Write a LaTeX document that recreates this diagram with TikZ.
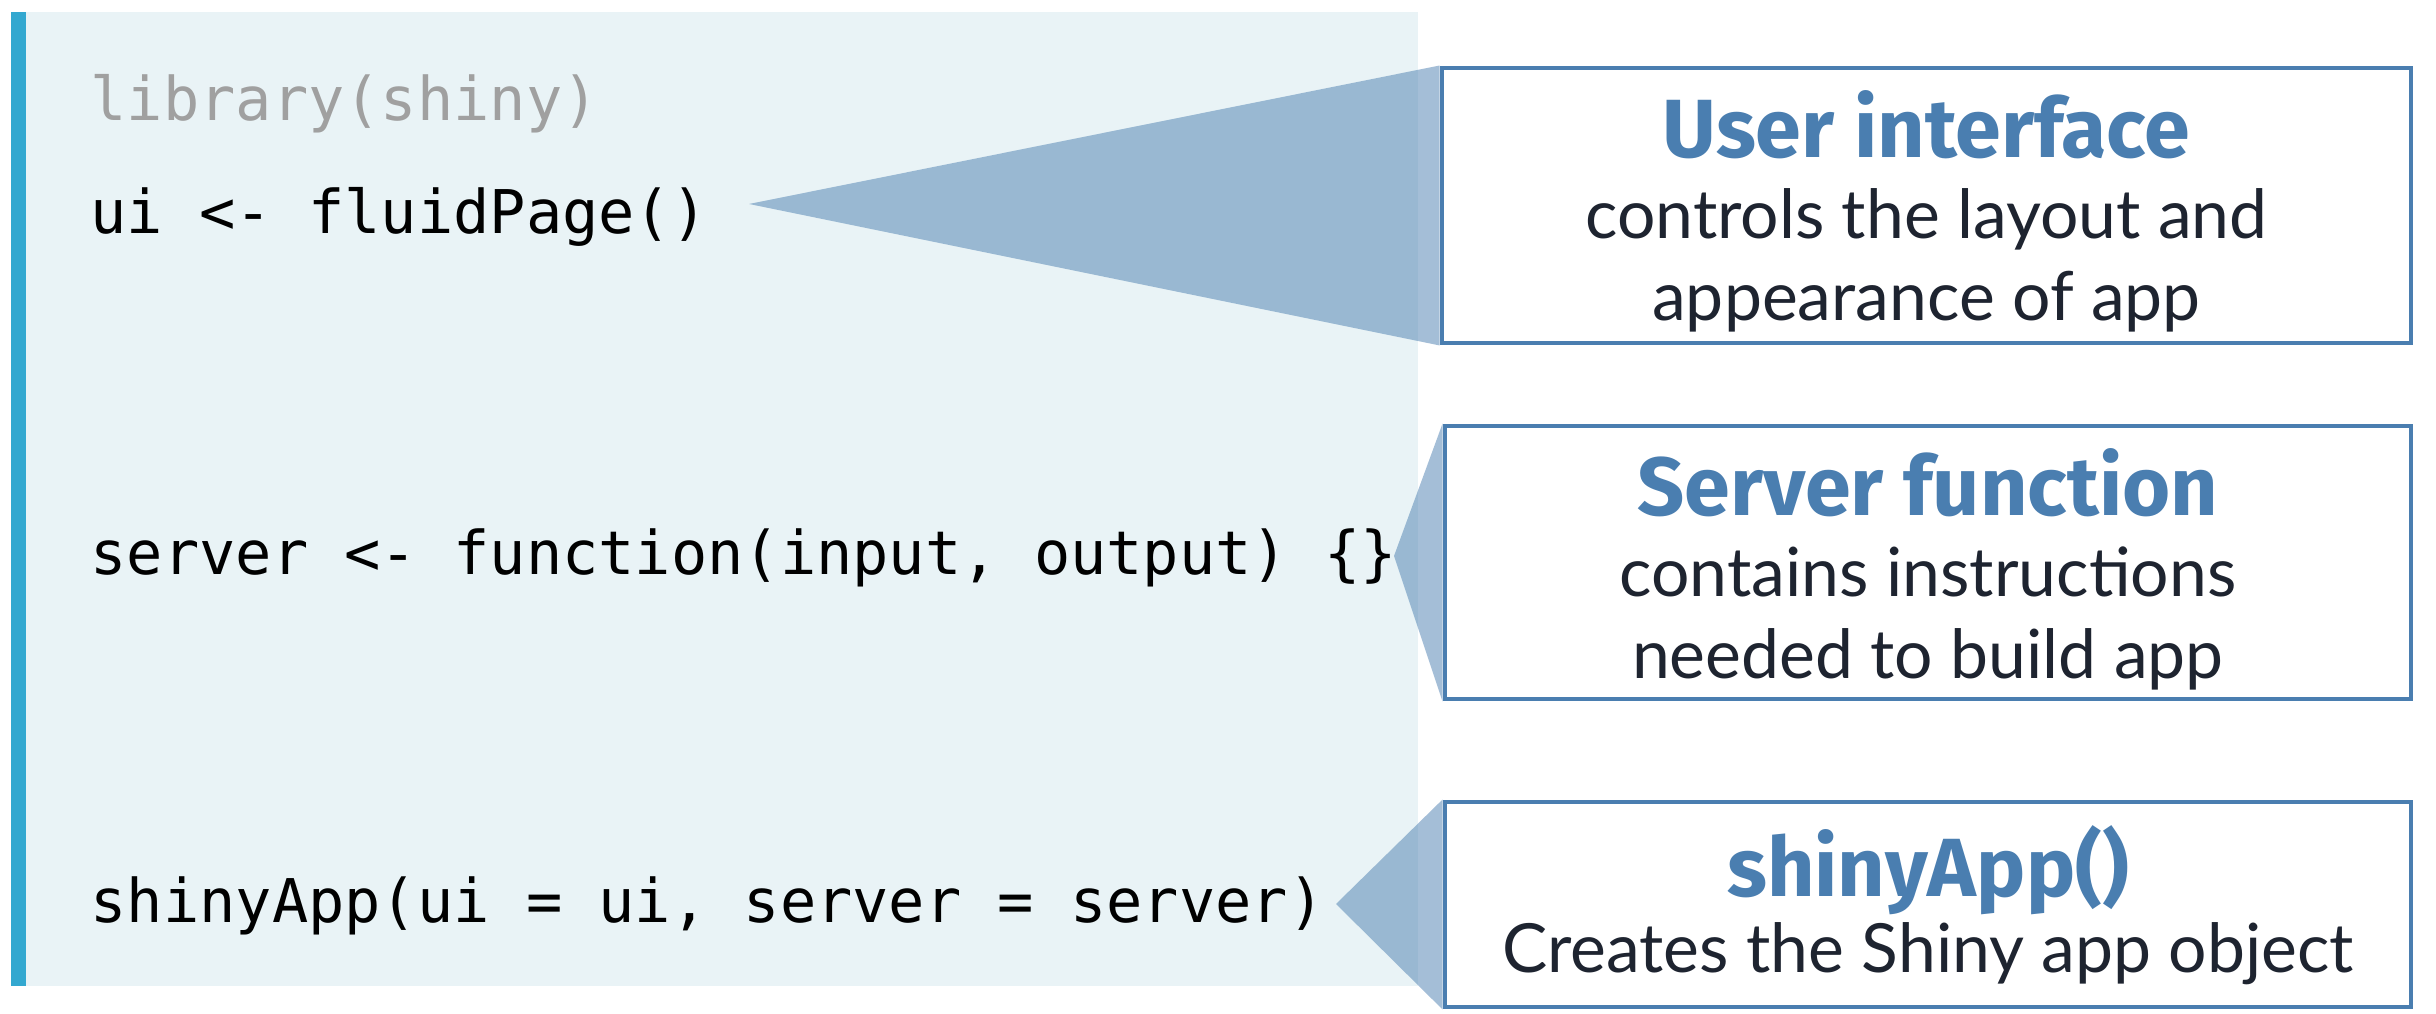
\documentclass[tikz,border=0pt]{standalone}
\usepackage{fontspec}
\setmainfont{Lato}
\setmonofont{DejaVu Sans Mono}
\newfontfamily\titlefont{Fira Sans}
\usetikzlibrary{positioning}
\definecolor{barblue}{HTML}{33A8D0}
\definecolor{panelbg}{HTML}{E9F3F6}
\definecolor{noteblue}{HTML}{4A7EB0}
\definecolor{notetext}{HTML}{1E2430}
\definecolor{commentgray}{HTML}{A0A0A0}
\newcommand{\notehead}[1]{{\color{noteblue}\titlefont\bfseries\fontsize{23.5}{23.4}\selectfont #1}}

\begin{document}
\begin{tikzpicture}[
  codeline/.style={anchor=west, inner sep=0pt, font=\ttfamily\fontsize{17.15}{20}\selectfont},
  notebox/.style={draw=noteblue, line width=1.4pt, fill=white, inner sep=0pt},
  notetext/.style={align=center, inner sep=0pt, text=notetext, font=\fontsize{19.3}{23.4}\selectfont},
  callout/.style={fill=noteblue, fill opacity=0.5}
]
\useasboundingbox (0,0) rectangle (24.36,10.14);
% code panel
\fill[panelbg] (0.26,0.28) rectangle (14.18,10.02);
\fill[barblue] (0.11,0.28) rectangle (0.26,10.02);
\node[codeline, text=commentgray] (lib) at (0.90,9.10) {library(shiny)};
\node[codeline] (ui) at (0.90,7.97) {ui <- fluidPage()};
\node[codeline] (server) at (0.90,4.56) {server <- function(input, output) \{\}};
\node[codeline] (app) at (0.90,1.08) {shinyApp(ui = ui, server = server)};
% tips of the callouts
\coordinate (uitip) at (7.49,8.10);
\coordinate (servertip) at (13.94,4.58);
\coordinate (apptip) at (13.36,1.10);
% note boxes
\node[notebox, minimum width=9.69cm, minimum height=2.75cm] (uibox) at (19.265,8.085) {};
\node[notebox, minimum width=9.66cm, minimum height=2.73cm] (serverbox) at (19.28,4.515) {};
\node[notebox, minimum width=9.66cm, minimum height=2.05cm] (appbox) at (19.28,1.095) {};
\node[notetext] (uitext) at ([yshift=-0.06cm]uibox.center)
  {\notehead{User interface}\\[-0.4pt] controls the layout and\\ appearance of app};
\node[notetext] (servertext) at ([yshift=-0.07cm]serverbox.center)
  {\notehead{Server function}\\[-0.4pt] contains instructions\\ needed to build app};
\node[notetext] (apptext) at ([yshift=-0.01cm]appbox.center)
  {\notehead{shinyApp()}\\[-1.8pt] Creates the Shiny app object};
% callouts
\fill[callout] (uitip) -- (uibox.north west) -- (uibox.south west) -- cycle;
\fill[callout] (servertip) -- (serverbox.north west) -- (serverbox.south west) -- cycle;
\fill[callout] (apptip) -- (appbox.north west) -- (appbox.south west) -- cycle;
\end{tikzpicture}
\end{document}
